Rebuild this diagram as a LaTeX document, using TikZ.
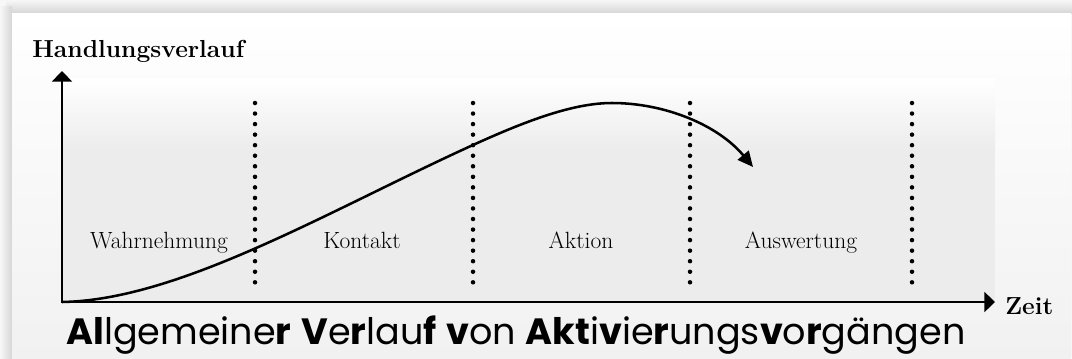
\documentclass[tikz,border=0pt]{standalone}
\usepackage{fontspec}
\usepackage{tikz}
\usetikzlibrary{arrows.meta}
\newfontfamily\titlefont{Poppins}
\definecolor{chartbg}{HTML}{ECECEC}
\definecolor{panelbg}{HTML}{F1F1F1}
\definecolor{shadowdk}{HTML}{D6D6D6}
\definecolor{shadowlt}{HTML}{F7F7F7}

\begin{document}
\begin{tikzpicture}[x=0.025cm, y=-0.025cm, line join=round,
  axis/.style={line width=2.1pt, line join=miter,
    {Triangle[width=14pt,length=7.5pt]}-{Triangle[width=14pt,length=7.5pt]}},
  sep/.style={line width=3.2pt, line cap=round, dash pattern=on 0pt off 7.5pt},
  phase/.style={font=\fontsize{16.7}{20}\selectfont, anchor=base, inner sep=0pt},
  axlabel/.style={font=\bfseries\fontsize{17.5}{21}\selectfont, anchor=base west, inner sep=0pt}]
  \useasboundingbox (0,0) rectangle (1072,358);
  % soft shadow round the panel
  \fill[shadowlt] (0,0) rectangle (1072,358);
  \shade[top color=shadowlt, bottom color=shadowdk] (6,0) rectangle (1072,13);
  \shade[left color=shadowlt, right color=shadowdk] (0,6) rectangle (12,358);
  % panel and chart area
  \shade[top color=white, bottom color=panelbg] (12,13) rectangle (1071,358);
  \shade[top color=white, bottom color=chartbg] (62,78) rectangle (995,150);
  \fill[chartbg] (62,150) rectangle (995,302);
  \coordinate (O) at (62,302);
  \coordinate (Ytop) at (62,71);
  \coordinate (Xend) at (995,302);
  \coordinate (P) at (473,145);
  \coordinate (Q) at (612,103);
  \coordinate (E) at (753,167);
  % phase borders (dotted)
  \foreach \x in {255,473,690,912}
    \draw[sep] (\x,103) -- (\x,284);
  % axes
  \draw[axis] (Ytop) -- (O) -- (Xend);
  % course of action
  \draw[line width=1.8pt, -{Triangle[width=10pt,length=11pt]}]
    (O) .. controls (180,300) and (330,210) .. (P)
        .. controls (530,119) and (575,103) .. (Q)
        .. controls (665,103) and (718,125) .. (E);
  % labels
  \node[phase] (wahr) at (159,248) {Wahrnehmung};
  \node[phase] (kont) at (362,248) {Kontakt};
  \node[phase] (akt) at (581,248) {Aktion};
  \node[phase] (ausw) at (801,248) {Auswertung};
  \node[axlabel] (ylab) at (32,57) {Handlungsverlauf};
  \node[axlabel] (xlab) at (1005,314) {Zeit};
  \node[font=\titlefont\fontsize{26}{30}\selectfont, anchor=base, inner sep=0pt] (title) at (516,344)
    {\textbf{Al}lgemeine\textbf{r} \textbf{V}e\textbf{r}lau\textbf{f} \textbf{v}on \textbf{Akt}i\textbf{v}ie\textbf{r}ungs\textbf{v}o\textbf{r}gängen};
\end{tikzpicture}
\end{document}
